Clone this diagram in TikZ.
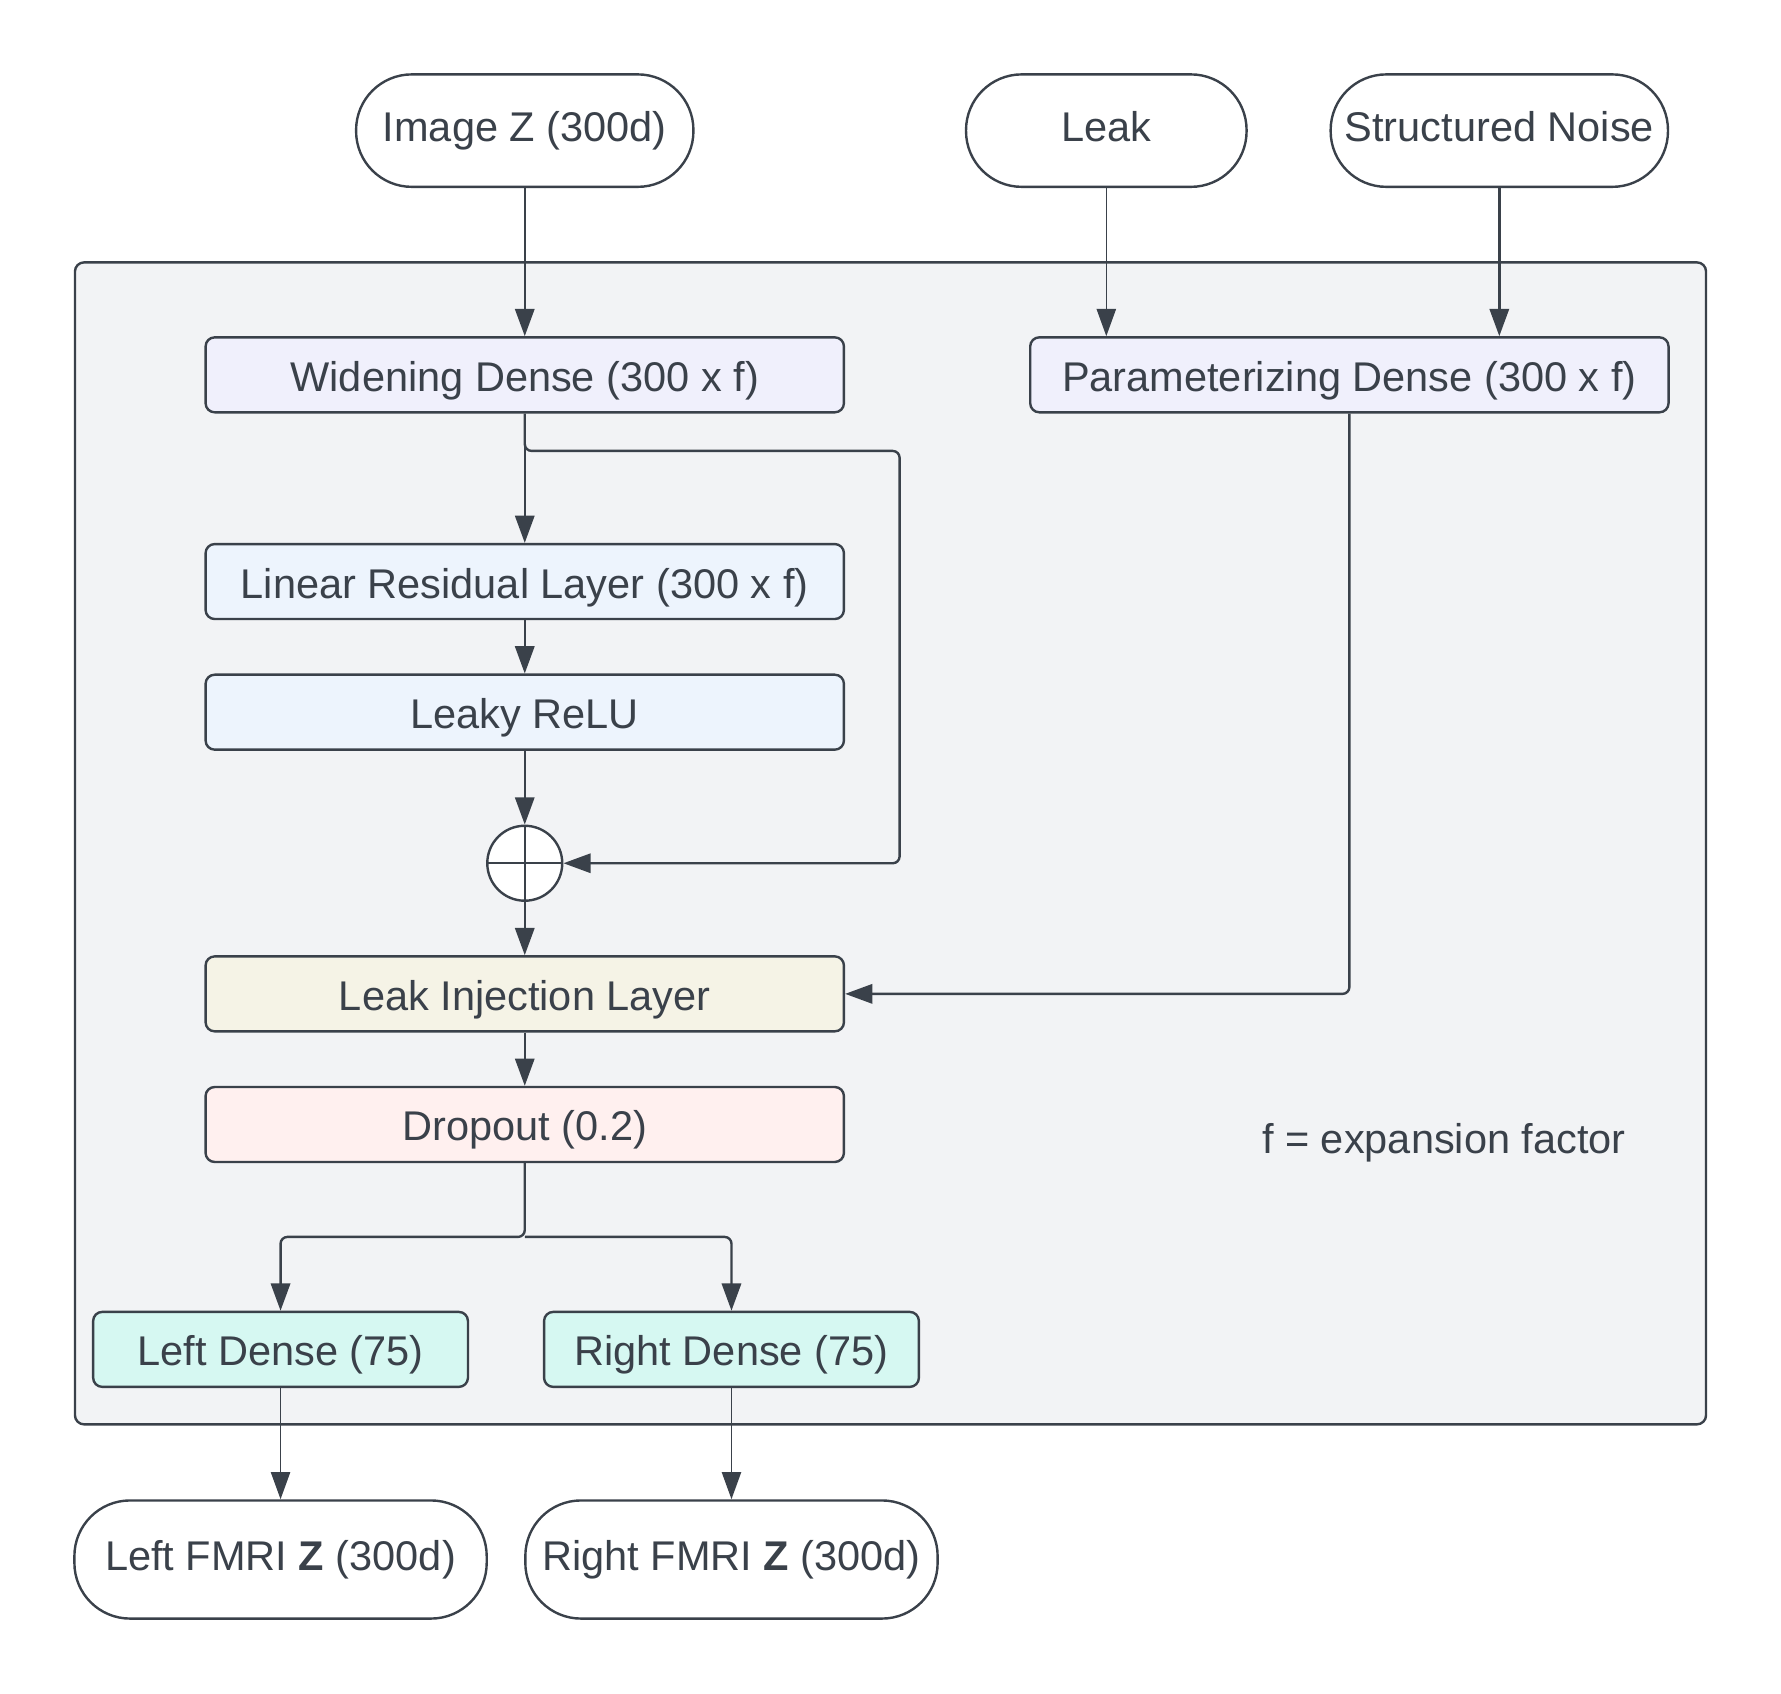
\documentclass[tikz,border=0pt]{standalone}
\usepackage{fontspec}
\setmainfont{Liberation Sans}
\usetikzlibrary{arrows.meta,positioning}

\definecolor{ink}{HTML}{3A414A}
\definecolor{panel}{HTML}{F2F3F5}
\definecolor{lavender}{HTML}{F0F0FC}
\definecolor{skyblue}{HTML}{EDF4FD}
\definecolor{cream}{HTML}{F5F3E6}
\definecolor{blush}{HTML}{FFF0EF}
\definecolor{mint}{HTML}{D6F8F2}

\begin{document}
\begin{tikzpicture}[x=0.1mm,y=-0.1mm,>={Triangle[length=2.4mm,width=1.7mm]},
                    line width=0.6pt,draw=ink,text=ink,
                    font=\fontsize{10.4}{12}\selectfont]
  \tikzstyle{pill}=[rectangle,draw=ink,fill=white,rounded corners=4.9mm,
                    minimum height=9.9mm,inner sep=0pt,
                    text height=2.7mm,text depth=0.8mm]
  \tikzstyle{layer}=[rectangle,draw=ink,rounded corners=0.8mm,
                     minimum width=56.2mm,minimum height=6.6mm,inner sep=0pt,
                     text height=3.3mm,text depth=0.4mm]
  \tikzstyle{head}=[layer,fill=mint,minimum width=33mm]
  \tikzstyle{link}=[->,draw=ink,rounded corners=0.6mm]

  \useasboundingbox (0,0) rectangle (1568,1491);
  \draw[fill=panel,rounded corners=0.8mm] (66,231) rectangle (1502,1254);

  % inputs
  \node[pill,minimum width=29.7mm] (IZ) at (462,115)  {Image Z (300d)};
  \node[pill,minimum width=24.7mm] (LK) at (974,115)  {Leak};
  \node[pill,minimum width=29.7mm] (SN) at (1320,115) {Structured Noise};

  % layers
  \node[layer,fill=lavender] (WD) at (462,330)  {Widening Dense (300 x f)};
  \node[layer,fill=lavender] (PD) at (1188,330) {Parameterizing Dense (300 x f)};
  \node[layer,fill=skyblue]  (LR) at (462,512)  {Linear Residual Layer (300 x f)};
  \node[layer,fill=skyblue]  (RL) at (462,627)  {Leaky ReLU};
  \node[circle,draw=ink,fill=white,minimum size=6.6mm,inner sep=0pt]
                             (AD) at (462,760)  {};
  \node[layer,fill=cream]    (LI) at (462,875)  {Leak Injection Layer};
  \node[layer,fill=blush]    (DO) at (462,990)  {Dropout (0.2)};
  \node[head] (LD) at (247,1188) {Left Dense (75)};
  \node[head] (RD) at (644,1188) {Right Dense (75)};

  % outputs
  \node[pill,minimum width=36.3mm,minimum height=10.4mm] (LF) at (247,1373)
       {Left FMRI \textbf{Z} (300d)};
  \node[pill,minimum width=36.3mm,minimum height=10.4mm] (RF) at (644,1373)
       {Right FMRI \textbf{Z} (300d)};

  \node[anchor=east] (NT) at (1444,1006) {f = expansion factor};

  \coordinate (SK) at (792,397);
  \coordinate (SP) at (462,1089);

  % plus sign
  \draw (AD.north) -- (AD.south) (AD.west) -- (AD.east);

  % connectors
  \draw[link] (IZ) -- (WD);
  \draw[link,line width=0.4pt] (LK.south) -- (LK.south |- PD.north);
  \draw[link] (SN.south) -- (SN.south |- PD.north);
  \draw[link] (WD) -- (LR);
  \draw[link] (WD.south) |- (SK) |- (AD.east);
  \draw[link] (LR) -- (RL);
  \draw[link] (RL) -- (AD);
  \draw[link] (AD) -- (LI);
  \draw[link] (PD.south) |- (LI.east);
  \draw[link] (LI) -- (DO);
  \draw[link] (DO.south) -- (SP) -| (LD.north);
  \draw[link] (SP) -| (RD.north);
  \draw[link,line width=0.4pt] (LD) -- (LF);
  \draw[link,line width=0.4pt] (RD) -- (RF);

\end{tikzpicture}
\end{document}
